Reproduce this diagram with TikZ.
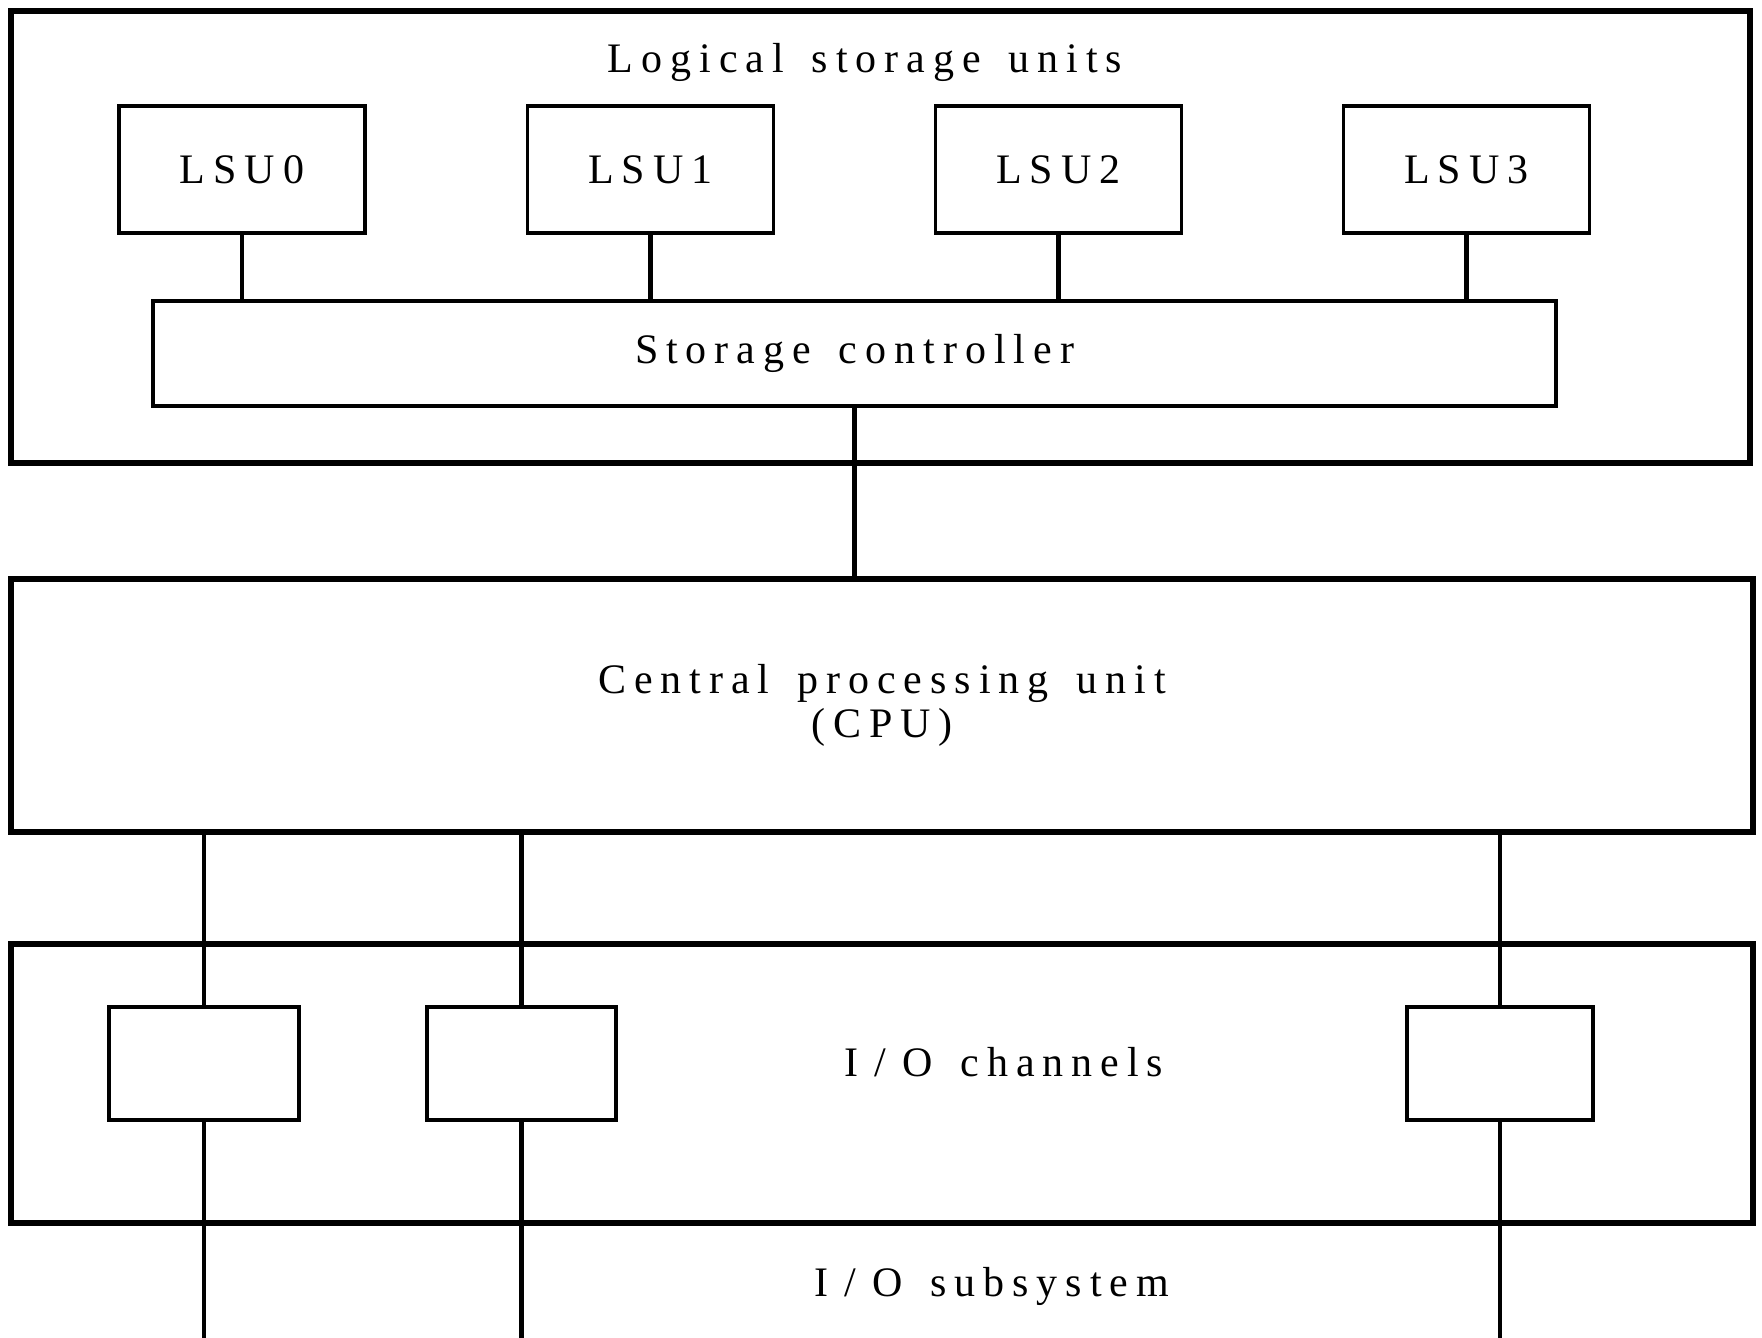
\documentclass[tikz,border=0pt]{standalone}
\usepackage{fontspec}
\setmainfont{Liberation Serif}[LetterSpace=19, WordSpace=1.5]
\begin{document}
\begin{tikzpicture}[x=0.5pt,y=-0.5pt,
  outerbox/.style={draw, line width=2.9pt, minimum width=#1, inner sep=0pt},
  inbox/.style={draw, line width=1.7pt, inner sep=0pt},
  lsubox/.style={inbox, minimum width=123pt, minimum height=63.5pt},
  chbox/.style={inbox, minimum height=56.5pt},
  conn/.style={line width=2.1pt},
  lbl/.style={font=\fontsize{21}{25}\selectfont, align=center, inner sep=0pt}]
\useasboundingbox (0,0) rectangle (1762,1338);
% top group
\node[outerbox=869.5pt, minimum height=226pt] (lsugroup) at (880.5,237) {};
\node[lbl] (title) at (865,62) {Logical storage units};
\node[lsubox, lbl] (lsu0) at (242,169.5) {LSU0};
\node[lsubox, lbl] (lsu1) at (650.5,169.5) {LSU1};
\node[lsubox, lbl] (lsu2) at (1058.5,169.5) {LSU2};
\node[lsubox, lbl] (lsu3) at (1466.5,169.5) {LSU3};
\node[inbox, lbl, minimum width=701.5pt, minimum height=52.5pt] (ctrl) at (854.5,353.5) {Storage controller};
\foreach \i in {0,1,2,3} \draw[conn] (lsu\i.south) -- (lsu\i.south |- ctrl.north);
% CPU
\node[outerbox=871pt, minimum height=126.5pt, lbl] (cpu) at (882,705.5) {Central processing unit\\[-3pt](CPU)};
\draw[conn] (ctrl.south) -- (ctrl.south |- cpu.north);
% I/O
\node[outerbox=871pt, minimum height=139.5pt] (iobox) at (882,1083.5) {};
\node[chbox, minimum width=95pt] (ch1) at (204,1063.5) {};
\node[chbox, minimum width=94.5pt] (ch2) at (521.5,1063.5) {};
\node[chbox, minimum width=93pt] (ch3) at (1500,1063.5) {};
\node[lbl] (iochan) at (1004,1062) {I\kern8pt/\kern8pt O channels};
\node[lbl] (iosub) at (992,1286) {I\kern8pt/\kern8pt O subsystem};
\coordinate (b1) at (204,1338);
\coordinate (b2) at (521.5,1338);
\coordinate (b3) at (1500,1338);
\foreach \i in {1,2,3} {
  \draw[conn] (ch\i.north) -- (ch\i.north |- cpu.south);
  \draw[conn] (ch\i.south) -- (b\i);
}
\end{tikzpicture}
\end{document}
